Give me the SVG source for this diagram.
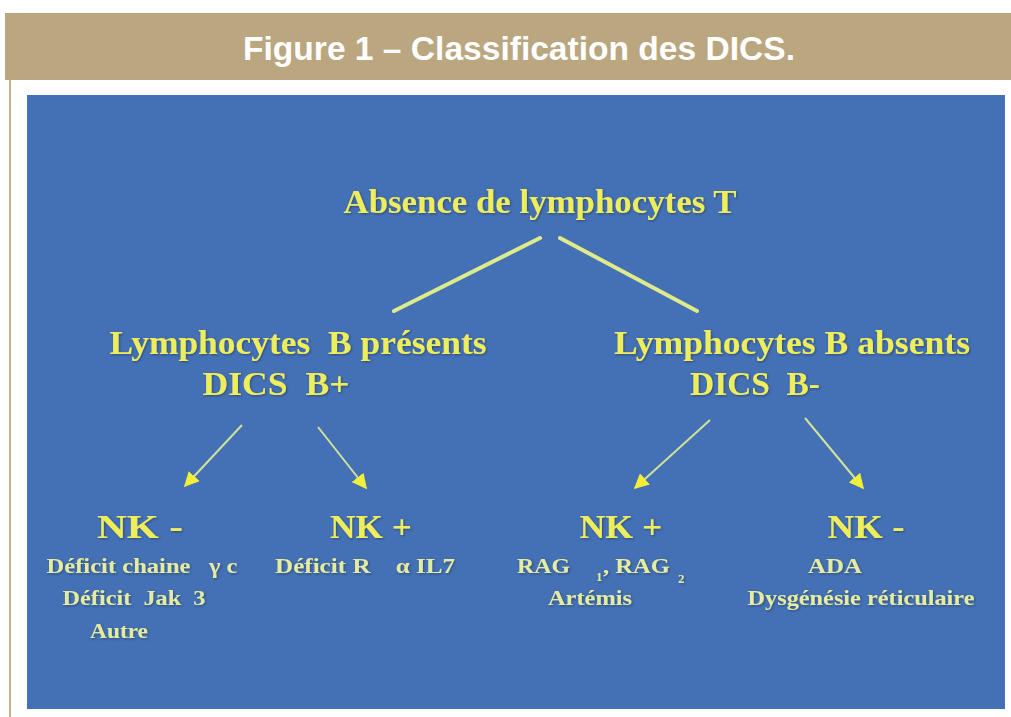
<svg xmlns="http://www.w3.org/2000/svg" width="1011" height="717" viewBox="0 0 1011 717">
<defs>
<style>
.t{font-family:"Liberation Serif","Times New Roman",serif;font-weight:bold;fill:#eeee5c;text-anchor:middle}
.big{font-size:34px}
.sm{font-size:21px;fill:#e3eca0}
.title{font-family:"Liberation Sans",Arial,sans-serif;font-weight:bold;font-size:33px;fill:#ffffff;text-anchor:middle}
.ln{stroke:#dfea8a;stroke-width:4;stroke-linecap:round;fill:none}
.ar{stroke:#cfe39a;stroke-width:2;fill:none;marker-end:url(#ah)}
</style>
<marker id="ah" viewBox="0 0 10 10" refX="9" refY="5" markerWidth="15" markerHeight="15" markerUnits="userSpaceOnUse" orient="auto">
<path d="M0,0 L10,5 L0,10 z" fill="#f2ee3a"/>
</marker>
<filter id="sh" x="-5%" y="-20%" width="110%" height="140%">
<feDropShadow dx="1" dy="1" stdDeviation="0.8" flood-color="#203050" flood-opacity="0.6"/>
</filter>
</defs>
<rect width="1011" height="717" fill="#ffffff"/>
<rect x="5" y="13" width="1006" height="67" fill="#baa67f"/>
<rect x="9" y="80" width="2" height="637" fill="#c9b08e"/>
<text class="title" x="519" y="60" textLength="552" lengthAdjust="spacingAndGlyphs">Figure 1 – Classification des DICS.</text>
<rect x="27" y="95" width="978" height="614" fill="#4470b5"/>
<g id="connectors">
<line class="ln" x1="540" y1="238" x2="394" y2="311"/>
<line class="ln" x1="560" y1="238" x2="697" y2="311"/>
<line class="ar" x1="242" y1="425" x2="185" y2="486"/>
<line class="ar" x1="318" y1="427" x2="366" y2="488"/>
<line class="ar" x1="710" y1="420" x2="635" y2="488"/>
<line class="ar" x1="805" y1="418" x2="863" y2="488"/>
</g>
<g id="root" filter="url(#sh)">
<text class="t big" x="540" y="213" textLength="393" lengthAdjust="spacingAndGlyphs">Absence de lymphocytes T</text>
</g>
<g id="bplus" filter="url(#sh)">
<text class="t big" x="298" y="354" textLength="377" lengthAdjust="spacingAndGlyphs" xml:space="preserve">Lymphocytes  B présents</text>
<text class="t big" x="276" y="395" textLength="147" lengthAdjust="spacingAndGlyphs" xml:space="preserve">DICS  B+</text>
</g>
<g id="bminus" filter="url(#sh)">
<text class="t big" x="792" y="354" textLength="356" lengthAdjust="spacingAndGlyphs">Lymphocytes B absents</text>
<text class="t big" x="755" y="395" textLength="130" lengthAdjust="spacingAndGlyphs" xml:space="preserve">DICS  B-</text>
</g>
<g id="nk1" filter="url(#sh)">
<text class="t big" x="140" y="538" textLength="86" lengthAdjust="spacingAndGlyphs">NK -</text>
<text class="t sm" x="142" y="573" textLength="191" lengthAdjust="spacingAndGlyphs" xml:space="preserve">Déficit chaine   γ c</text>
<text class="t sm" x="134" y="605" textLength="143" lengthAdjust="spacingAndGlyphs" xml:space="preserve">Déficit  Jak  3</text>
<text class="t sm" x="119" y="638" textLength="58" lengthAdjust="spacingAndGlyphs">Autre</text>
</g>
<g id="nk2" filter="url(#sh)">
<text class="t big" x="371" y="538" textLength="82" lengthAdjust="spacingAndGlyphs">NK +</text>
<text class="t sm" x="365" y="573" textLength="180" lengthAdjust="spacingAndGlyphs" xml:space="preserve">Déficit R    α IL7</text>
</g>
<g id="nk3" filter="url(#sh)">
<text class="t big" x="621" y="538" textLength="83" lengthAdjust="spacingAndGlyphs">NK +</text>
<text class="t sm" x="517" y="573" style="text-anchor:start" textLength="53" lengthAdjust="spacingAndGlyphs">RAG</text>
<text class="t sm" x="596" y="581" style="text-anchor:start;font-size:13px">1</text>
<text class="t sm" x="603" y="573" style="text-anchor:start" textLength="67" lengthAdjust="spacingAndGlyphs">, RAG</text>
<text class="t sm" x="678" y="583" style="text-anchor:start;font-size:13px">2</text>
<text class="t sm" x="590" y="605" textLength="84" lengthAdjust="spacingAndGlyphs">Artémis</text>
</g>
<g id="nk4" filter="url(#sh)">
<text class="t big" x="866" y="538" textLength="77" lengthAdjust="spacingAndGlyphs">NK -</text>
<text class="t sm" x="835" y="573" textLength="54" lengthAdjust="spacingAndGlyphs">ADA</text>
<text class="t sm" x="861" y="605" textLength="227" lengthAdjust="spacingAndGlyphs">Dysgénésie réticulaire</text>
</g>
</svg>
